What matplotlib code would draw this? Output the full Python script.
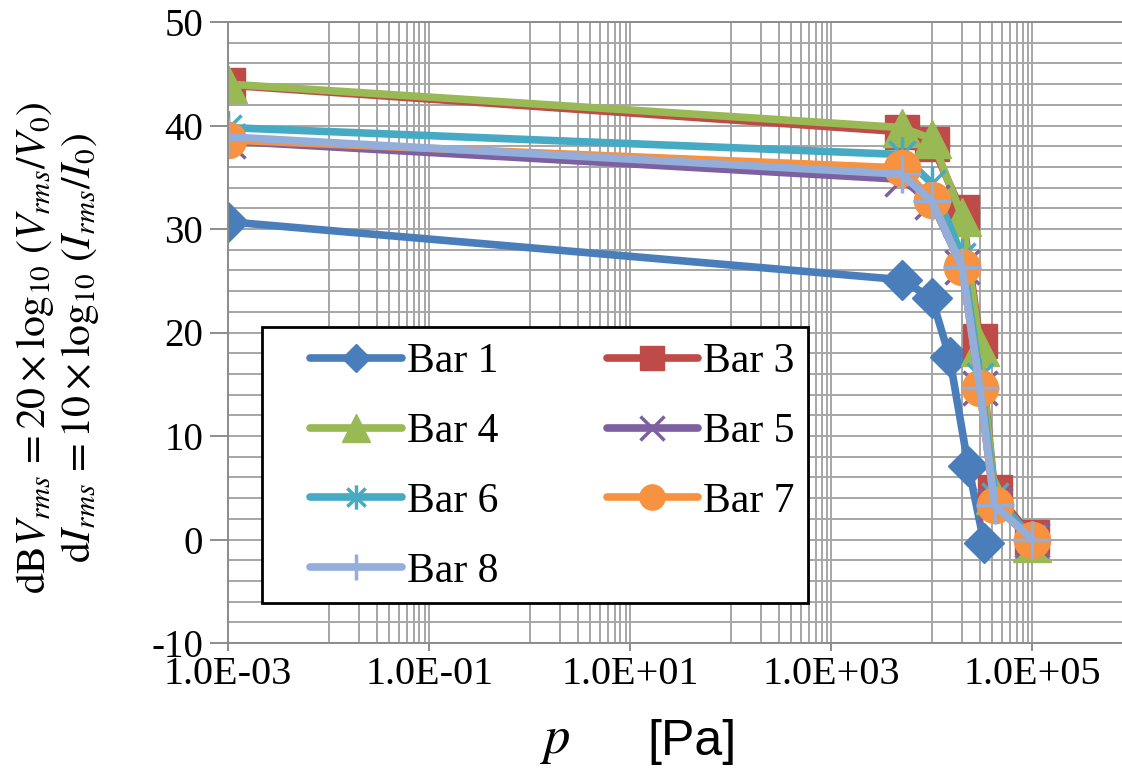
import matplotlib
matplotlib.use("Agg")
import matplotlib.pyplot as plt
from matplotlib.path import Path
from matplotlib.lines import Line2D
from matplotlib.patches import Rectangle
from matplotlib.ticker import NullFormatter
import numpy as np

# pressure [Pa] and dB values
p_bar1 = [1e-3, 5e3, 1e4, 1.5e4, 2.3e4, 3.3e4]
db_bar1 = [30.7, 25.1, 23.3, 17.6, 7.1, -0.3]

p_common = [1e-3, 5e3, 1e4, 2e4, 3e4, 4.2e4, 1e5]
db_bar3 = [43.9, 39.4, 38.2, 31.6, 19.2, 4.6, 0.2]
db_bar4 = [44.0, 39.8, 38.7, 31.2, 18.6, 4.3, -0.3]
db_bar5 = [38.5, 34.8, 32.6, 26.3, 14.6, 3.3, 0.0]
db_bar6 = [39.8, 37.2, 34.4, 27.4, 15.8, 4.2, 0.1]
db_bar7 = [38.6, 35.9, 32.8, 26.3, 14.6, 3.3, 0.0]
db_bar8 = [38.9, 35.3, 32.7, 26.3, 14.6, 3.3, 0.0]

labels = ["Bar 1", "Bar 3", "Bar 4", "Bar 5", "Bar 6", "Bar 7", "Bar 8"]
colors = ["#4A7EBB", "#BE4B48", "#98B954", "#7D60A0", "#46AAC5", "#F69240", "#93AEDB"]

xtick_vals = [1e-3, 1e-1, 1e1, 1e3, 1e5]
xtick_labels = ["1.0E-03", "1.0E-01", "1.0E+01", "1.0E+03", "1.0E+05"]

plt.rcParams["font.family"] = ["Liberation Serif", "DejaVu Serif"]
plt.rcParams["mathtext.fontset"] = "stix"
plt.rcParams["axes.unicode_minus"] = False

# asterisk marker like Excel's star: vertical bar + X
star = Path([(0, -1), (0, 1), (-0.75, -0.75), (0.75, 0.75), (-0.75, 0.75), (0.75, -0.75)],
            [Path.MOVETO, Path.LINETO, Path.MOVETO, Path.LINETO, Path.MOVETO, Path.LINETO])

fig = plt.figure(figsize=(11.22, 7.78), dpi=100)
ax = fig.add_axes([228 / 1122, 1 - 643 / 778, 905 / 1122, 621 / 778])

lw = 5.5
styles = [
    dict(marker="D", ms=20, mec=colors[0], mfc=colors[0]),
    dict(marker="s", ms=25, mec=colors[1], mfc=colors[1]),
    dict(marker="^", ms=28, mec=colors[2], mfc=colors[2]),
    dict(marker="x", ms=25, mec=colors[3], mew=2.5),
    dict(marker=star, ms=25, mec=colors[4], mfc="none", mew=2.5),
    dict(marker="o", ms=26, mec=colors[5], mfc=colors[5]),
    dict(marker="+", ms=27, mec=colors[6], mew=2.5),
]
series = [(p_bar1, db_bar1), (p_common, db_bar3), (p_common, db_bar4), (p_common, db_bar5),
          (p_common, db_bar6), (p_common, db_bar7), (p_common, db_bar8)]

handles = []
for (px, py), lab, c, st in zip(series, labels, colors, styles):
    ax.plot(px, py, color=c, lw=lw, solid_capstyle="round", **st)
    hst = dict(st)
    hst["ms"] = st["ms"] * 0.7
    handles.append(Line2D([], [], color=c, lw=lw, solid_capstyle="round", label=lab, **hst))

ax.set_xscale("log")
ax.set_xlim(1e-3, 1e6)
ax.set_ylim(-10, 50)

ax.set_xticks(xtick_vals)
ax.set_xticklabels(xtick_labels)
minor_x = [k * 10.0 ** n for n in (-2, 0, 2, 4) for k in range(1, 10)]
ax.set_xticks(minor_x, minor=True)
ax.xaxis.set_minor_formatter(NullFormatter())
ax.set_yticks(np.arange(-10, 51, 10))
ax.set_yticks(np.arange(-10, 51, 2), minor=True)

ax.grid(True, which="both", color="#A6A6A6", lw=1.4)
ax.set_axisbelow(True)
for s in ax.spines.values():
    s.set_color("#8C8C8C")
    s.set_linewidth(1.4)
ax.tick_params(axis="both", which="major", labelsize=29, color="#8C8C8C", width=1.4)
ax.tick_params(axis="y", which="major", labelsize=28, length=13, pad=5)
ax.tick_params(axis="x", which="major", length=6, pad=3)
ax.tick_params(which="minor", length=0)

# legend frame drawn separately so the inner padding can match the original
fig.patches.append(Rectangle((262 / 1122, 1 - 603 / 778), 546 / 1122, 276 / 778,
                             transform=fig.transFigure, facecolor="white",
                             edgecolor="black", lw=2, zorder=5))
order = [0, 2, 4, 6, 1, 3, 5]
leg = fig.legend([handles[i] for i in order], [labels[i] for i in order], ncol=2,
                 loc="upper left", bbox_to_anchor=(310 / 1122, 1 - 343 / 778),
                 fontsize=30, frameon=False, handlelength=2.2, handletextpad=0.12,
                 columnspacing=2.6, labelspacing=0.75, borderpad=0, borderaxespad=0)
leg.set_zorder(6)

fig.text(35 / 1122, 1 - 348 / 778, r"$\mathrm{dB}V_{rms}\,=20\times\log_{10}\,(V_{rms}/V_0)$",
         rotation=90, ha="center", va="center", fontsize=30)
fig.text(80 / 1122, 1 - 348 / 778, r"$\mathrm{d}I_{rms}\,=10\times\log_{10}\,(I_{rms}/I_0)$",
         rotation=90, ha="center", va="center", fontsize=30)

fig.text(555 / 1122, 1 - 742 / 778, r"$p$", ha="center", va="center", fontsize=38)
fig.text(692 / 1122, 1 - 742 / 778, "[Pa]", ha="center", va="center", fontsize=36,
         family="Liberation Sans")

fig.savefig("out.png", dpi=100)
